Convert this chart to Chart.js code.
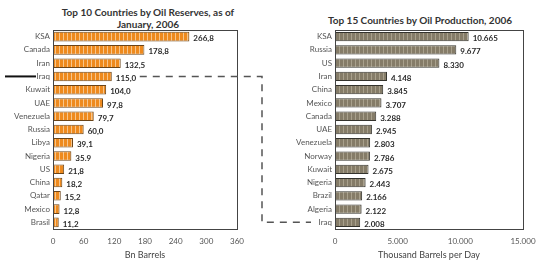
<!DOCTYPE html>
<html>
<head>
<meta charset="utf-8">
<script src="https://cdn.jsdelivr.net/npm/chart.js@4.4.1/dist/chart.umd.min.js"></script>
<style>
  body { margin: 0; background: #ffffff; width: 554px; height: 265px; overflow: hidden; position: relative; font-family: Lato, "Open Sans", sans-serif; }
  .box { position: absolute; top: 0; height: 265px; }
  .title { position: absolute; text-align: center; font-weight: bold; font-size: 10px; color: #333; line-height: 12px; white-space: nowrap; }
  #overlay { position: absolute; left: 0; top: 0; pointer-events: none; }
</style>
</head>
<body>
<div class="title" style="left:48px; width:200px; top:6px;">Top 10 Countries by Oil Reserves, as of<br>January, 2006</div>
<div class="title" style="left:320px; width:200px; top:14px;">Top 15 Countries by Oil Production, 2006</div>
<div class="box" style="left:0; width:270px;"><canvas id="reserves"></canvas></div>
<div class="box" style="left:280px; width:274px;"><canvas id="production"></canvas></div>
<canvas id="overlay" width="554" height="265"></canvas>
<script>
// Oil reserves (Bn barrels), Jan 2006
const reserveCountries = ['KSA', 'Canada', 'Iran', 'Iraq', 'Kuwait', 'UAE', 'Venezuela', 'Russia', 'Libya', 'Nigeria', 'US', 'China', 'Qatar', 'Mexico', 'Brasil'];
const reserveValues = [266.8, 178.8, 132.5, 115.0, 104.0, 97.8, 79.7, 60.0, 39.1, 35.9, 21.8, 18.2, 15.2, 12.8, 11.2];
const reserveLabels = ['266,8', '178,8', '132,5', '115,0', '104,0', '97,8', '79,7', '60,0', '39,1', '35.9', '21,8', '18,2', '15,2', '12,8', '11,2'];
const reserveTicks = [0, 60, 120, 180, 240, 300, 360];

// Oil production (thousand barrels per day), 2006
const prodCountries = ['KSA', 'Russia', 'US', 'Iran', 'China', 'Mexico', 'Canada', 'UAE', 'Venezuela', 'Norway', 'Kuwait', 'Nigeria', 'Brazil', 'Algeria', 'Iraq'];
const prodValues = [10665, 9677, 8330, 4148, 3845, 3707, 3288, 2945, 2803, 2786, 2675, 2443, 2166, 2122, 2008];
const prodTicks = [0, 5000, 10000, 15000];

// dotted thousands like the scan: 10.665
function dotThousands(v) {
    return String(Math.round(v)).replace(/\B(?=(\d{3})+(?!\d))/g, '.');
}

// striped fill to mimic the hatched bars
function makePattern(base, stripe) {
    const c = document.createElement('canvas');
    c.width = 4; c.height = 4;
    const g = c.getContext('2d');
    g.fillStyle = base;
    g.fillRect(0, 0, 4, 4);
    g.fillStyle = stripe;
    g.fillRect(3, 0, 1, 4);
    return g.createPattern(c, 'repeat');
}

// frame around the plot area
const frame = {
    id: 'frame',
    afterDraw(chart) {
        const a = chart.chartArea, ctx = chart.ctx;
        ctx.save();
        ctx.strokeStyle = '#444';
        ctx.lineWidth = 1;
        ctx.strokeRect(Math.round(a.left) + 0.5, Math.round(a.top) + 0.5, Math.round(a.right - a.left), Math.round(a.bottom - a.top));
        ctx.restore();
    }
};

// value text at the end of each bar
const valueText = {
    id: 'valueText',
    afterDatasetsDraw(chart, args, opts) {
        const labels = opts.labels || [];
        const ctx = chart.ctx;
        const meta = chart.getDatasetMeta(0);
        ctx.save();
        ctx.font = 'bold 8px Lato, sans-serif';
        ctx.fillStyle = '#2a2a2a';
        ctx.textBaseline = 'middle';
        meta.data.forEach((bar, i) => {
            if (labels[i] !== undefined) ctx.fillText(labels[i], bar.x + 4, bar.y + 2);
        });
        ctx.restore();
    }
};

function buildOptions(ticks, max, yWidth, padRight, axisTitle, fmt, valueLabels) {
    return {
        indexAxis: 'y',
        responsive: true,
        maintainAspectRatio: false,
        animation: false,
        layout: { padding: { top: 30, right: padRight, bottom: 5, left: 0 } },
        plugins: {
            legend: { display: false },
            tooltip: { enabled: false },
            valueText: { labels: valueLabels }
        },
        scales: {
            x: {
                min: 0, max: max,
                afterBuildTicks: s => { s.ticks = ticks.map(v => ({ value: v })); },
                grid: { display: false, drawTicks: false },
                border: { display: false },
                ticks: { color: '#555', font: { size: 8, family: 'Lato' }, padding: 8, callback: fmt, maxRotation: 0 },
                title: { display: true, text: axisTitle, color: '#444', font: { size: 9, family: 'Lato' }, padding: { top: 0, bottom: 0 } },
                afterFit: s => { s.height = 31; }
            },
            y: {
                grid: { display: false, drawTicks: false },
                border: { display: false },
                ticks: { color: '#555', font: { size: 8, family: 'Lato' }, padding: 3 },
                afterFit: s => { s.width = yWidth; }
            }
        }
    };
}

const reservesChart = new Chart(document.getElementById('reserves'), {
    type: 'bar',
    data: {
        labels: reserveCountries,
        datasets: [{
            data: reserveValues,
            backgroundColor: makePattern('#ee8a1e', '#f7c58a'),
            borderColor: '#6a4418',
            borderWidth: 1,
            categoryPercentage: 0.72,
            barPercentage: 1
        }]
    },
    options: buildOptions(reserveTicks, 360, 53, 33, 'Bn Barrels', v => v, reserveLabels),
    plugins: [frame, valueText]
});

const prodChart = new Chart(document.getElementById('production'), {
    type: 'bar',
    data: {
        labels: prodCountries,
        datasets: [{
            data: prodValues,
            backgroundColor: makePattern('#857c68', '#a8a08c'),
            borderColor: '#33322c',
            borderWidth: 1,
            categoryPercentage: 0.7,
            barPercentage: 1
        }]
    },
    options: buildOptions(prodTicks, 15000, 55, 31, 'Thousand Barrels per Day', v => dotThousands(v), prodValues.map(dotThousands)),
    plugins: [frame, valueText]
});

// the hand-drawn marker and the dashed Iraq connector
function drawOverlay() {
    const ctx = document.getElementById('overlay').getContext('2d');
    const iraqL = reserveCountries.indexOf('Iraq');
    const iraqR = prodCountries.indexOf('Iraq');
    const yL = reservesChart.scales.y.getPixelForValue(iraqL);
    const yR = prodChart.scales.y.getPixelForValue(iraqR);
    const xStart = reservesChart.scales.x.getPixelForValue(reserveValues[iraqL]) + 28;
    const xBend = 262;
    const xEnd = 280 + prodChart.chartArea.left - 24;

    ctx.strokeStyle = '#111';
    ctx.lineWidth = 2;
    ctx.beginPath();
    ctx.moveTo(5, yL);
    ctx.lineTo(36, yL);
    ctx.stroke();

    ctx.strokeStyle = '#555';
    ctx.lineWidth = 1.5;
    ctx.setLineDash([7, 6]);
    ctx.beginPath();
    ctx.moveTo(xStart, yL);
    ctx.lineTo(xBend, yL);
    ctx.lineTo(xBend, yR);
    ctx.lineTo(xEnd, yR);
    ctx.stroke();
}
drawOverlay();
</script>
</body>
</html>
